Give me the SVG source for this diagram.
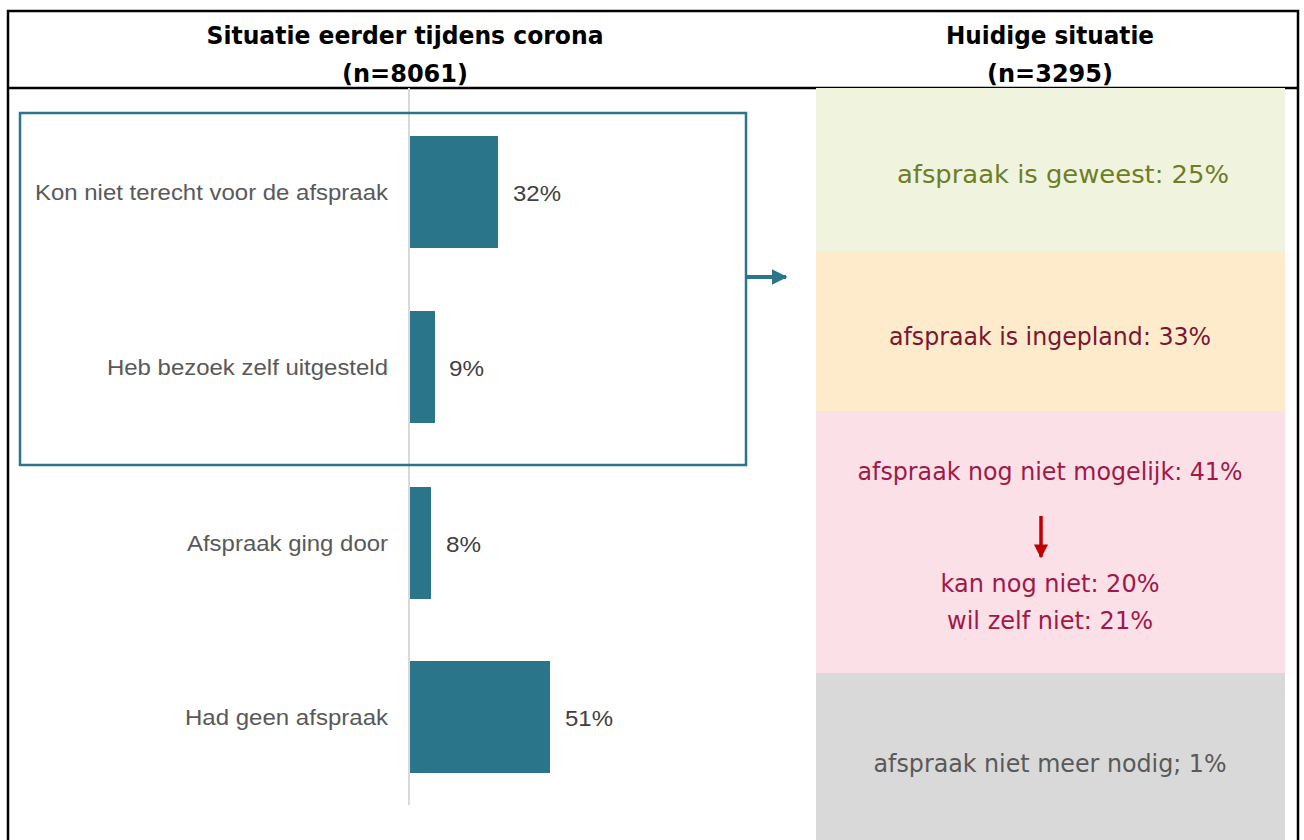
<svg xmlns="http://www.w3.org/2000/svg" width="1304" height="840" viewBox="0 0 1304 840">
<style>
.hd{font-family:"DejaVu Sans",Verdana,sans-serif;font-weight:bold;font-size:25px;fill:#000;text-anchor:middle}
.lb{font-family:"Liberation Sans",Arial,sans-serif;font-size:22px;fill:#595959;text-anchor:end}
.pc{font-family:"Liberation Sans",Arial,sans-serif;font-size:22px;fill:#404040}
.rt{font-family:"DejaVu Sans",Tahoma,sans-serif;font-size:24px;text-anchor:middle}
.bar{fill:#2a7589}
</style>
<defs>
<marker id="ab" viewBox="0 0 10 10" refX="9" refY="5" markerWidth="4" markerHeight="4" orient="auto" markerUnits="strokeWidth"><path d="M0,0L10,5L0,10z" fill="#2a7589"/></marker>
<marker id="ar" viewBox="0 0 10 10" refX="9" refY="5" markerWidth="4" markerHeight="4" orient="auto" markerUnits="strokeWidth"><path d="M0,0L10,5L0,10z" fill="#c00000"/></marker>
</defs>
<rect width="1304" height="840" fill="#fff"/>
<g id="frame" fill="none" stroke="#000" stroke-width="2.5">
<path d="M8,840V11H1298V840"/>
<line x1="8" y1="88" x2="1298" y2="88"/>
</g>
<g id="headers">
<text class="hd" x="405" y="44" textLength="397" lengthAdjust="spacingAndGlyphs">Situatie eerder tijdens corona</text>
<text class="hd" x="405" y="82" textLength="126" lengthAdjust="spacingAndGlyphs">(n=8061)</text>
<text class="hd" x="1050" y="44" textLength="208" lengthAdjust="spacingAndGlyphs">Huidige situatie</text>
<text class="hd" x="1050" y="82" textLength="126" lengthAdjust="spacingAndGlyphs">(n=3295)</text>
</g>
<g id="status-blocks">
<g id="s1"><rect x="816" y="88" width="469" height="163" fill="#f0f4de"/><text class="rt" x="1063" y="183" fill="#6e7d26" textLength="332" lengthAdjust="spacingAndGlyphs">afspraak is geweest: 25%</text></g>
<g id="s2"><rect x="816" y="251" width="469" height="160" fill="#fdebcc"/><text class="rt" x="1050" y="345" fill="#7a1630" textLength="322" lengthAdjust="spacingAndGlyphs">afspraak is ingepland: 33%</text></g>
<g id="s3"><rect x="816" y="411" width="469" height="262" fill="#fbe0e8"/>
<text class="rt" x="1050" y="480" fill="#a01848" textLength="385" lengthAdjust="spacingAndGlyphs">afspraak nog niet mogelijk: 41%</text>
<text class="rt" x="1050" y="592" fill="#a01848" textLength="219" lengthAdjust="spacingAndGlyphs">kan nog niet: 20%</text>
<text class="rt" x="1050" y="629" fill="#a01848" textLength="206" lengthAdjust="spacingAndGlyphs">wil zelf niet: 21%</text>
</g>
<g id="s4"><rect x="816" y="673" width="469" height="167" fill="#d9d9d9"/><text class="rt" x="1050" y="772" fill="#595959" textLength="353" lengthAdjust="spacingAndGlyphs">afspraak niet meer nodig; 1%</text></g>
</g>
<line id="axis" x1="409" y1="88" x2="409" y2="805" stroke="#d9d9d9" stroke-width="2"/>
<g id="bars">
<g id="b1"><rect class="bar" x="410" y="136" width="88" height="112"/><text class="lb" x="388" y="200" textLength="353" lengthAdjust="spacingAndGlyphs">Kon niet terecht voor de afspraak</text><text class="pc" x="513" y="201" textLength="48" lengthAdjust="spacingAndGlyphs">32%</text></g>
<g id="b2"><rect class="bar" x="410" y="311" width="25" height="112"/><text class="lb" x="388" y="375" textLength="281" lengthAdjust="spacingAndGlyphs">Heb bezoek zelf uitgesteld</text><text class="pc" x="449" y="376" textLength="35" lengthAdjust="spacingAndGlyphs">9%</text></g>
<g id="b3"><rect class="bar" x="410" y="487" width="21" height="112"/><text class="lb" x="388" y="551" textLength="201" lengthAdjust="spacingAndGlyphs">Afspraak ging door</text><text class="pc" x="446" y="552" textLength="35" lengthAdjust="spacingAndGlyphs">8%</text></g>
<g id="b4"><rect class="bar" x="410" y="661" width="140" height="112"/><text class="lb" x="388" y="725" textLength="203" lengthAdjust="spacingAndGlyphs">Had geen afspraak</text><text class="pc" x="565" y="726" textLength="48" lengthAdjust="spacingAndGlyphs">51%</text></g>
</g>
<rect id="highlight" x="20" y="113" width="726" height="352" fill="none" stroke="#2a7589" stroke-width="2.5"/>
<g id="connectors">
<line x1="747" y1="277" x2="786" y2="277" stroke="#2a7589" stroke-width="4" marker-end="url(#ab)"/>
<line x1="1041" y1="516" x2="1041" y2="557" stroke="#c00000" stroke-width="3.5" marker-end="url(#ar)"/>
</g>
</svg>
